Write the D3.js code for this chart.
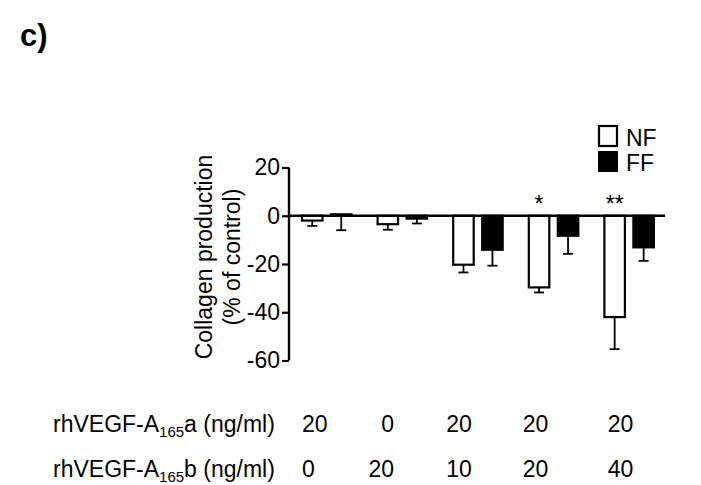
<!DOCTYPE html>
<html>
<head>
<meta charset="utf-8">
<script src="https://cdn.jsdelivr.net/npm/d3@7"></script>
<style>
  html, body { margin: 0; padding: 0; background: #fff; }
  svg { display: block; font-family: "Liberation Sans", Arial, sans-serif; }
</style>
</head>
<body>
<svg id="chart" width="701" height="485"></svg>
<script>
// ---- data ----
const groups = ["G1", "G2", "G3", "G4", "G5"];
const series = ["NF", "FF"];
const nfValues = [-2.0, -3.5, -20.3, -29.7, -42.0];
const nfErr    = [2.2, 2.3, 3.2, 2.1, 13.3];
const ffValues = [0.6, -1.2, -14.1, -8.3, -13.1];
const ffErr    = [6.6, 2.0, 6.6, 7.5, 5.6];
const yTicks = [20, 0, -20, -40, -60];
const significance = ["", "", "", "*", "**"];
const rowALabel = ["20", "0", "20", "20", "20"];
const rowBLabel = ["0", "20", "10", "20", "40"];

// ---- layout ----
const svg = d3.select("#chart");
const FS = 23;
const axisX = 289;
const y = d3.scaleLinear().domain([-60, 20]).range([360.5, 167.5]);
const x0 = d3.scaleBand().domain(groups).range([289, 667]).paddingInner(0).paddingOuter(0);
const x1 = d3.scaleBand().domain(series).range([13, 62.5]).paddingInner(0.293).paddingOuter(0);
const colors = { NF: "#ffffff", FF: "#000000" };

const data = groups.map((g, i) => ({
  g,
  bars: [
    { s: "NF", v: nfValues[i], e: nfErr[i] },
    { s: "FF", v: ffValues[i], e: ffErr[i] }
  ]
}));

// title
svg.append("text").attr("x", 20).attr("y", 46)
  .attr("font-size", 31).attr("font-weight", "bold").text("c)");

// bars
const gG = svg.append("g").selectAll("g").data(data).join("g")
  .attr("transform", d => `translate(${x0(d.g)},0)`);

gG.selectAll("rect").data(d => d.bars).join("rect")
  .attr("x", d => x1(d.s))
  .attr("width", x1.bandwidth())
  .attr("y", d => Math.min(y(d.v), y(0)))
  .attr("height", d => Math.abs(y(d.v) - y(0)))
  .attr("fill", d => colors[d.s])
  .attr("stroke", "#000").attr("stroke-width", 2.2);

// error bars (drawn downward)
const cap = 5;
gG.selectAll("g.err").data(d => d.bars).join("g").attr("class", "err")
  .each(function(d) {
    const cx = x1(d.s) + x1.bandwidth() / 2;
    const g = d3.select(this);
    g.append("line").attr("x1", cx).attr("x2", cx)
      .attr("y1", y(d.v)).attr("y2", y(d.v - d.e))
      .attr("stroke", "#000").attr("stroke-width", 1.8);
    g.append("line").attr("x1", cx - cap).attr("x2", cx + cap)
      .attr("y1", y(d.v - d.e)).attr("y2", y(d.v - d.e))
      .attr("stroke", "#000").attr("stroke-width", 1.8);
  });

// significance stars
svg.append("g").selectAll("text").data(groups).join("text")
  .attr("x", (g) => x0(g) + x1("NF") + x1.bandwidth() / 2)
  .attr("y", 212)
  .attr("text-anchor", "middle").attr("font-size", FS)
  .text((g, i) => significance[i]);

// zero line
svg.append("line").attr("x1", axisX).attr("x2", 665)
  .attr("y1", y(0)).attr("y2", y(0))
  .attr("stroke", "#000").attr("stroke-width", 2.4);

// y axis
const yAxis = d3.axisLeft(y).tickValues(yTicks).tickSize(7).tickSizeOuter(0).tickPadding(2)
  .tickFormat(d3.format("d"));
const ax = svg.append("g").attr("transform", `translate(${axisX},0)`).call(yAxis);
ax.select(".domain").attr("stroke-width", 2.4).attr("d", `M0,${y(20)}V${y(-60)}`);
ax.selectAll(".tick line").attr("stroke-width", 2.2);
ax.selectAll(".tick text").attr("font-size", FS).attr("font-family", "Liberation Sans, Arial, sans-serif")
  .attr("fill", "#000").text(d => d < 0 ? "-" + Math.abs(d) : d);

// y label
const yl = svg.append("text").attr("transform", "translate(0,257) rotate(-90)")
  .attr("text-anchor", "middle").attr("font-size", FS);
yl.append("tspan").attr("x", 0).attr("y", 211.5).text("Collagen production");
yl.append("tspan").attr("x", 0).attr("y", 240).text("(% of control)");

// legend
const leg = svg.append("g");
leg.append("rect").attr("x", 599).attr("y", 126).attr("width", 18).attr("height", 20)
  .attr("fill", "#fff").attr("stroke", "#000").attr("stroke-width", 2.2);
leg.append("rect").attr("x", 598).attr("y", 151).attr("width", 20).attr("height", 21)
  .attr("fill", "#000");
leg.append("text").attr("x", 626).attr("y", 146).attr("font-size", FS).text(series[0]);
leg.append("text").attr("x", 626).attr("y", 171).attr("font-size", FS).text(series[1]);

// treatment rows
function rowLabel(yPos, letter) {
  const t = svg.append("text").attr("x", 53).attr("y", yPos).attr("font-size", FS);
  t.append("tspan").text("rhVEGF-A");
  t.append("tspan").attr("font-size", 15).attr("dy", 5).text("165");
  t.append("tspan").attr("dy", -5).text(letter + " (ng/ml)");
}
rowLabel(432, "a");
rowLabel(477, "b");

const colPos = [
  { x: 302, anchor: "start" },
  { x: 394, anchor: "end" },
  { x: 459, anchor: "middle" },
  { x: 535.5, anchor: "middle" },
  { x: 620.5, anchor: "middle" }
];
[[rowALabel, 432], [rowBLabel, 477]].forEach(([labels, yy]) => {
  svg.append("g").selectAll("text").data(labels).join("text")
    .attr("x", (d, i) => colPos[i].x)
    .attr("text-anchor", (d, i) => colPos[i].anchor)
    .attr("y", yy).attr("font-size", FS).text(d => d);
});
</script>
</body>
</html>
